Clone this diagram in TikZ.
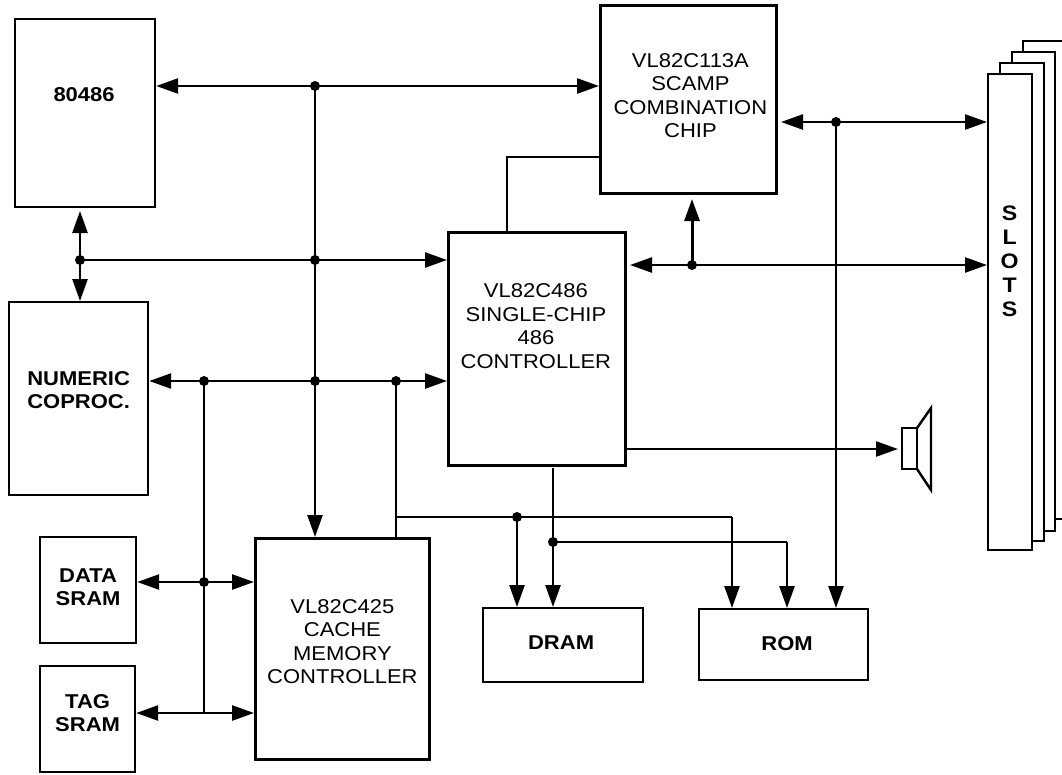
\documentclass[tikz,border=0pt]{standalone}
\usepackage{fontspec}
\setmainfont[FakeStretch=1.1]{Liberation Sans}
\usetikzlibrary{arrows.meta,calc}
\tikzset{
  x=1pt,y=-1pt,
  chip/.style={draw=black,line width=2.8pt,anchor=north west,inner sep=0pt},
  mem/.style={chip,line width=2.2pt},
  lbl/.style={align=center,inner sep=0pt,font=\fontsize{20}{23.5}\selectfont},
  boldlbl/.style={lbl,font=\fontsize{20}{23.5}\selectfont\bfseries},
  bus/.style={line width=2.5pt,draw=black},
  ar/.style={bus,-{Triangle[length=22pt,width=15pt]}},
  biar/.style={bus,{Triangle[length=22pt,width=15pt]}-{Triangle[length=22pt,width=15pt]}},
  dot/.style={circle,fill=black,inner sep=0pt,minimum size=10pt},
  card/.style={draw=black,line width=2.2pt},
}
\begin{document}
\begin{tikzpicture}
\useasboundingbox (0,0) rectangle (1062,774);
% slot cards
\draw[card] (1023,52) |- (1062,41) (1055,519) -- (1062,519);
\draw[card] (1012,63) |- (1055,52) -- (1055,531) -- (1044,531);
\draw[card] (1000,73) |- (1044,63) -- (1044,541) -- (1033,541);
\node[card,fill=white,anchor=north west,minimum width=44pt,minimum height=476pt,inner sep=0pt,
  label={[name=slotlbl,align=center,inner sep=0pt,font=\fontsize{21}{24}\selectfont\bfseries,xshift=-0.5pt,yshift=51pt]center:S\\L\\O\\T\\S}] (slots) at (987,73) {};
% boxes
\node[mem,minimum width=140pt,minimum height=188pt,label={[boldlbl,xshift=-1pt,yshift=18pt]center:80486}] (cpu) at (14,18) {};
\node[mem,minimum width=139pt,minimum height=193pt,label={[boldlbl,yshift=8.5pt]center:NUMERIC\\COPROC.}] (npx) at (8,301) {};
\node[mem,minimum width=96pt,minimum height=106pt,label={[boldlbl,yshift=3pt]center:DATA\\SRAM}] (data) at (39,536) {};
\node[mem,minimum width=95pt,minimum height=106pt,label={[boldlbl,yshift=6pt]center:TAG\\SRAM}] (tag) at (39,665) {};
\node[chip,minimum width=174pt,minimum height=221pt,label={[lbl,yshift=7.5pt]center:VL82C425\\CACHE\\MEMORY\\CONTROLLER}] (cache) at (254,537) {};
\node[chip,minimum width=177pt,minimum height=233pt,label={[lbl,xshift=-1pt,yshift=23pt]center:VL82C486\\SINGLE-CHIP\\486\\CONTROLLER}] (ctrl) at (447,231) {};
\node[chip,minimum width=176pt,minimum height=188pt,label={[lbl,xshift=2pt,yshift=4pt]center:VL82C113A\\SCAMP\\COMBINATION\\CHIP}] (scamp) at (599,4) {};
\node[mem,minimum width=160pt,minimum height=74pt,label={[boldlbl,xshift=-2pt,yshift=2pt]center:DRAM}] (dram) at (482,607) {};
\node[mem,minimum width=169pt,minimum height=71pt,label={[boldlbl,xshift=3.5pt,yshift=1pt]center:ROM}] (rom) at (698,608) {};
% speaker
\node[draw=black,line width=2.4pt,anchor=north west,minimum width=15pt,minimum height=41pt,inner sep=0pt,outer sep=0pt] (spk) at (902,428) {};
\draw[line width=2.4pt,line join=miter] (spk.north east) -- (931,408) -- (931,490) -- (spk.south east);
% junctions
\coordinate (j1) at (315,86);
\coordinate (j2) at (315,260);
\coordinate (j3) at (80,260);
\coordinate (j4) at (315,381);
\coordinate (j5) at (204,381);
\coordinate (j6) at (396,381);
\coordinate (j7) at (204,582);
\coordinate (j8) at (204,713);
\coordinate (j9) at (396,517);
\coordinate (j10) at (517,517);
\coordinate (j11) at (732,517);
\coordinate (j12) at (553,542);
\coordinate (j13) at (787,542);
\coordinate (j14) at (836,122);
\coordinate (j15) at (692,265);
\coordinate (g1) at (80,211);
\coordinate (g2) at (630,265);
\coordinate (g3) at (692,199);
\coordinate (j16) at (507,157);
\coordinate (j17) at (781,122);
\coordinate (j18) at (553,468);
\coordinate (j19) at (0,449);
% connectors
\draw[biar] (cpu.east |- j1) -- (scamp.west |- j1);
\draw[ar] (j1) -- (j1 |- cache.north);
\draw[biar] (g1) -- (j3 |- npx.north);
\draw[ar] (j3) -- (ctrl.west |- j3);
\draw[biar] (npx.east |- j5) -- (ctrl.west |- j5);
\draw[bus] (j5) -- (j8);
\draw[biar] (data.east |- j7) -- (cache.west |- j7);
\draw[biar] (tag.east |- j8) -- (cache.west |- j8);
\draw[bus] (j6) -- (j6 |- cache.north);
\draw[bus] (j9) -- (j11);
\draw[ar] (j11) -- (j11 |- rom.north);
\draw[ar] (j10) -- (j10 |- dram.north);
\draw[ar] (j18) -- (j12 |- dram.north);
\draw[bus] (j12) -- (j13);
\draw[ar] (j13) -- (j13 |- rom.north);
\draw[bus] (j16 |- ctrl.north) -- (j16) -- (scamp.west |- j16);
\draw[biar] (j17) -- (slots.west |- j14);
\draw[ar] (j14) -- (j14 |- rom.north);
\draw[biar] (g2) -- (slots.west |- j15);
\draw[ar,line width=3pt] (j15) -- (g3);
\draw[ar] (ctrl.east |- j19) -- (898,449);
% dots
\foreach \j in {j1,j2,j3,j4,j5,j6,j7,j10,j12,j14,j15} \node[dot] at (\j) {};
\end{tikzpicture}
\end{document}
